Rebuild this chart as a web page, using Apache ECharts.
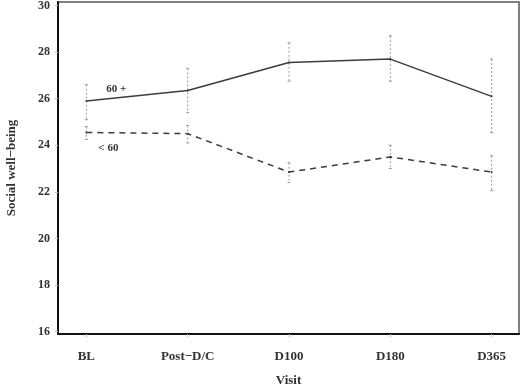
<!DOCTYPE html>
<html>
<head>
<meta charset="utf-8">
<script src="https://cdn.jsdelivr.net/npm/echarts@6/dist/echarts.min.js"></script>
<style>
  html, body { margin: 0; padding: 0; background: #fff; }
  #main { width: 520px; height: 386px; }
</style>
</head>
<body>
<div id="main"></div>
<script>
var chartDom = document.getElementById('main');
var myChart = echarts.init(chartDom);

// visits along the x axis
const visits = ['BL', 'Post\u2212D/C', 'D100', 'D180', 'D365'];
const yTicks = [16, 18, 20, 22, 24, 26, 28, 30];

// 60 + group (solid line)
const over60Mean = [25.9, 26.35, 27.55, 27.7, 26.1];
const over60Low = [25.1, 25.4, 26.75, 26.75, 24.55];
const over60High = [26.6, 27.3, 28.4, 28.7, 27.7];

// < 60 group (dashed line)
const under60Mean = [24.55, 24.5, 22.85, 23.5, 22.85];
const under60Low = [24.25, 24.1, 22.4, 23.0, 22.05];
const under60High = [24.8, 24.85, 23.25, 24.0, 23.55];

const serif = 'Liberation Serif';
const lineColor = '#3c3c3c';

function pairs(vals) {
    return vals.map((v, i) => [i, v]);
}
function bars(low, high) {
    return low.map((l, i) => [i, l, high[i]]);
}

function renderErrorBar(params, api) {
    var x = api.value(0);
    var lo = api.coord([x, api.value(1)]);
    var hi = api.coord([x, api.value(2)]);
    var style = { stroke: '#9a9a9a', lineWidth: 1, lineDash: [2, 2] };
    return {
        type: 'group',
        children: [
            { type: 'line', shape: { x1: hi[0], y1: hi[1], x2: lo[0], y2: lo[1] }, style: style },
            { type: 'line', shape: { x1: hi[0] - 1.5, y1: hi[1], x2: hi[0] + 1.5, y2: hi[1] }, style: { stroke: '#9a9a9a', lineWidth: 1 } },
            { type: 'line', shape: { x1: lo[0] - 1.5, y1: lo[1], x2: lo[0] + 1.5, y2: lo[1] }, style: { stroke: '#9a9a9a', lineWidth: 1 } }
        ]
    };
}

var option = {
    backgroundColor: '#fff',
    animation: false,
    grid: {
        left: 58,
        right: 1,
        top: 2,
        bottom: 52,
        outerBoundsMode: 'none',
        show: true,
        borderColor: '#555',
        borderWidth: 1.5
    },
    xAxis: {
        type: 'value',
        min: -0.28,
        max: 4.27,
        name: 'Visit',
        nameLocation: 'middle',
        nameGap: 40,
        nameTextStyle: { fontFamily: serif, fontWeight: 'bold', fontSize: 13, color: '#333' },
        splitLine: { show: false },
        axisLine: { show: true, onZero: false, lineStyle: { color: '#111', width: 2 } },
        axisTick: { show: true, length: 3, lineStyle: { color: '#bbb' }, customValues: [0, 1, 2, 3, 4] },
        axisLabel: {
            customValues: [0, 1, 2, 3, 4],
            formatter: (v) => visits[Math.round(v)],
            fontFamily: serif,
            fontWeight: 'bold',
            fontSize: 13,
            color: '#333',
            margin: 16
        }
    },
    yAxis: {
        type: 'value',
        min: 15.9,
        max: 30.15,
        name: 'Social well\u2212being',
        nameLocation: 'middle',
        nameGap: 40,
        nameTextStyle: { fontFamily: serif, fontWeight: 'bold', fontSize: 13, color: '#333' },
        splitLine: { show: false },
        axisLine: { show: true, onZero: false, lineStyle: { color: '#111', width: 2 } },
        axisTick: { show: true, length: 3, lineStyle: { color: '#bbb' }, customValues: yTicks },
        axisLabel: {
            customValues: yTicks,
            fontFamily: serif,
            fontWeight: 'bold',
            fontSize: 12,
            color: '#333',
            margin: 8
        }
    },
    series: [
        {
            name: 'err60plus',
            type: 'custom',
            renderItem: renderErrorBar,
            encode: { x: 0, y: [1, 2] },
            data: bars(over60Low, over60High),
            z: 1
        },
        {
            name: 'err60minus',
            type: 'custom',
            renderItem: renderErrorBar,
            encode: { x: 0, y: [1, 2] },
            data: bars(under60Low, under60High),
            z: 1
        },
        {
            name: '60 +',
            type: 'line',
            symbol: 'circle',
            symbolSize: 2,
            itemStyle: { color: lineColor },
            lineStyle: { color: lineColor, width: 1.5 },
            label: {
                show: true,
                formatter: (p) => p.dataIndex === 0 ? '60 +' : '',
                position: 'top',
                offset: [30, 0],
                fontFamily: serif,
                fontWeight: 'bold',
                fontSize: 11,
                color: '#333'
            },
            data: pairs(over60Mean),
            z: 3
        },
        {
            name: '< 60',
            type: 'line',
            symbol: 'circle',
            symbolSize: 2,
            itemStyle: { color: lineColor },
            lineStyle: { color: lineColor, width: 1.5, type: [6, 5] },
            label: {
                show: true,
                formatter: (p) => p.dataIndex === 0 ? '< 60' : '',
                position: 'bottom',
                offset: [22, 4],
                fontFamily: serif,
                fontWeight: 'bold',
                fontSize: 11,
                color: '#333'
            },
            data: pairs(under60Mean),
            z: 3
        }
    ]
};

myChart.setOption(option);
</script>
</body>
</html>
